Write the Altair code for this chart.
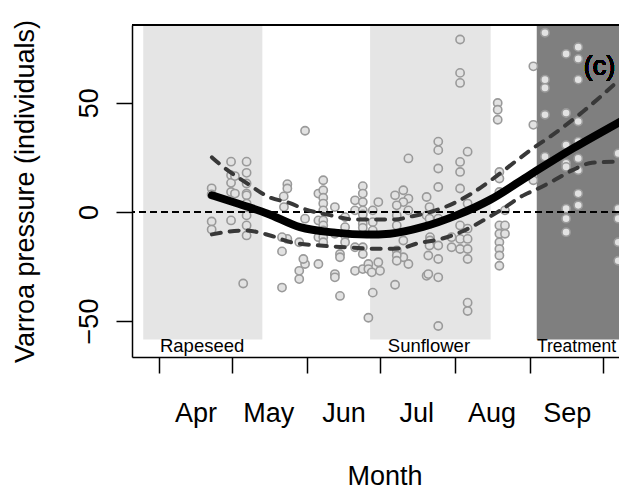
import altair as alt
import pandas as pd

FONT = "Liberation Sans"

# ---- observations: day since 1 April, Varroa pressure (individuals) ----
point_day = (
    [21.7] * 4 + [29.7] * 5 + [31.3] * 2 + [36.1] * 9 + [34.7]
    + [60.2] * 3 + [52.9] * 3 + [51.4, 51.5] + [50.7] * 3 + [57.8] * 3 + [59.5]
    + [65.7] * 4 + [67.7] * 10 + [72.5] * 4 + [74.6] * 3 + [76.7] * 4 + [80.8] * 4
    + [102.8] * 4 + [84.0] * 10 + [86.3] * 3 + [87.7] + [90.4] * 2 + [91.1]
    + [88.1] * 4 + [97.3] * 2 + [100.7] * 4 + [98.0] * 6 + [110.3] * 3
    + [111.7] * 3 + [111.0]
    + [124.1] * 9 + [115.1] * 9 + [127.2] * 8 + [111.5] * 3 + [111.0] + [120.6] * 2
    + [139.6] * 3 + [154.3] * 3 + [140.3] * 9 + [142.6] * 3
    + [159.1] * 5 + [167.8] * 8 + [172.8] * 9 + [189.3] * 5
)
point_val = (
    [10.8, 8.0, -4.4, -8.1]
    + [23.0, 16.8, 13.3, 9.1, -3.9]
    + [16.4, 8.4]
    + [23.0, 17.9, 13.0, 8.4, 7.6, 3.8, -1.6, -6.2, -10.8]
    + [-32.8]
    + [37.2, -3.1, -23.9]
    + [12.7, 10.7, -12.4]
    + [7.1, 2.2]
    + [-11.6, -18.1, -34.7]
    + [-13.9, -27.0, -30.8]
    + [-21.6]
    + [-23.9, -3.9, -11.6, 8.4]
    + [14.5, 9.9, 6.5, 3.8, 0.7, -3.9, -6.2, -8.5, -11.6, -13.9]
    + [2.2, -10.0, -28.5, -30.0]
    + [-19.3, -20.8, -38.5]
    + [-2.4, -7.0, -10.8, -13.9]
    + [5.3, 0.7, -16.2, -27.0]
    + [24.5, 6.1, 0.7, -23.9]
    + [11.8, 8.4, 4.5, 0.7, -1.2, -5.4, -7.3, -16.2, -19.3, -26.2]
    + [-23.9, -26.2, -48.5]
    + [-27.7]
    + [-23.1, 4.5]
    + [-27.0]
    + [-4.7, -8.5, 0.7, -37.0]
    + [7.6, -33.4]
    + [9.9, 4.5, -13.1, -20.8]
    + [3.0, -1.6, -6.2, -17.7, -20.0, -22.4]
    + [6.8, -1.6, -29.3]
    + [-5.4, -11.6, -13.1]
    + [-20.0]
    + [79.0, 63.7, 59.1, 22.9, 18.3, 10.7, -6.2, -12.4, -17.0]
    + [32.2, 28.3, 19.9, 11.4, -3.1, -15.4, -21.6, -30.0, -52.3]
    + [27.6, 3.8, -7.7, -12.4, -17.0, -21.6, -41.6, -45.4]
    + [2.2, -3.1, -15.4]
    + [-28.5]
    + [-11.6, -16.2]
    + [49.9, 46.8, 42.2]
    + [66.7, 39.9, 14.5]
    + [18.3, 15.3, 9.1, -6.2, -10.0, -13.9, -17.0, -20.0, -24.7]
    + [0.7, -6.2, -10.0]
    + [82.1, 60.6, 56.8, 44.5, 25.3]
    + [72.4, 45.3, 30.6, 22.2, 20.6, 1.5, -3.1, -9.3]
    + [75.5, 70.1, 60.6, 41.4, 32.2, 24.5, 19.1, 8.4, 3.0]
    + [26.8, 1.5, -3.1, -13.9, -22.4]
)

# ---- fitted smooth and confidence band ----
fit_day = [21.8, 30.5, 37.5, 44.5, 58.1, 72.5, 85.7, 95.2, 108.8, 122.8,
           136.4, 152.9, 170.6, 181.8, 190.4]
fit_val = [7.6, 4.5, 2.0, -0.7, -7.0, -9.5, -10.4, -10.0, -6.9, -1.5,
           5.5, 17.0, 29.1, 36.2, 41.5]

upper_day = [21.8, 26.0, 37.1, 44.9, 54.0, 59.4, 70.5, 80.8, 97.3, 103.5,
             112.9, 121.2, 129.0, 136.8, 147.6, 154.2, 161.2, 174.8, 189.2]
upper_val = [25.0, 21.0, 12.5, 7.0, 4.0, 1.5, -1.5, -3.5, -3.5, -2.2,
             0.3, 3.8, 8.5, 14.5, 23.7, 29.2, 34.5, 46.0, 60.0]

lower_day = [21.8, 35.4, 45.8, 54.8, 66.4, 76.7, 91.1, 99.3, 106.3, 115.8,
             124.9, 133.5, 139.7, 150.9, 155.0, 163.2, 170.2, 178.5, 189.2]
lower_val = [-10.3, -8.5, -10.8, -14.0, -15.4, -16.2, -16.9, -16.7, -14.5, -12.5,
             -9.0, -4.0, 0.0, 8.0, 10.0, 14.7, 19.0, 22.5, 23.0]

# ---- crop / treatment periods ----
period_names = ["Rapeseed", "Sunflower", "Treatment"]
period_start = [-6.5, 87.0, 155.7]
period_end = [42.6, 136.7, 205.0]
period_fill = ["#e5e5e5", "#e5e5e5", "#7f7f7f"]
period_label_day = [0.4, 94.3, 155.8]
period_label_size = [18.5, 18.5, 17.5]
PERIOD_BOTTOM = -58.5
PERIOD_LABEL_VAL = -64.2

# ---- axes ----
month_start_days = [0, 30, 61, 91, 122, 153, 183]
month_names = ["Apr", "May", "Jun", "Jul", "Aug", "Sep", ""]
y_ticks = [-50, 0, 50]
X_DOMAIN = [-11.13, 189.6]
Y_DOMAIN = [-66.5, 85.64]

PANEL_LABEL = "(c)"
PANEL_LABEL_DAY = 181.6
PANEL_LABEL_VAL = 62.5

label_expr = ""
for d, m in zip(month_start_days, month_names):
    label_expr += f"datum.value == {d} ? '{m}' : "
label_expr += "''"

points_df = pd.DataFrame({"day": point_day, "val": point_val})
fit_df = pd.DataFrame({"day": fit_day, "val": fit_val})
upper_df = pd.DataFrame({"day": upper_day, "val": upper_val})
lower_df = pd.DataFrame({"day": lower_day, "val": lower_val})
period_df = pd.DataFrame({
    "name": period_names, "start": period_start, "end": period_end,
    "fill": period_fill, "label_day": period_label_day,
    "label_size": period_label_size,
    "bottom": [PERIOD_BOTTOM] * 3, "top": [Y_DOMAIN[1]] * 3,
})

x_axis = alt.Axis(
    values=month_start_days, labelExpr=label_expr, labelOffset=36.5,
    tickSize=16, tickWidth=1.5, tickColor="black",
    domainColor="black", domainWidth=1.5, grid=False,
    labelFont=FONT, labelFontSize=27, labelColor="black",
    labelPadding=48, labelBaseline="alphabetic", labelAlign="center",
    labelOverlap=False, labelFlush=False,
    title="Month", titleFont=FONT, titleFontSize=27, titleFontWeight="normal",
    titleColor="black", titleX=252.5, titleY=127,
    titleBaseline="alphabetic", titleAlign="center",
)
y_axis = alt.Axis(
    values=y_ticks, tickSize=16, tickWidth=1.5, tickColor="black",
    domainColor="black", domainWidth=1.5, grid=False,
    labelFont=FONT, labelFontSize=27, labelColor="black",
    labelAngle=270, labelAlign="center", labelBaseline="alphabetic",
    labelPadding=19,
    title="Varroa pressure (individuals)", titleFont=FONT, titleFontSize=27,
    titleFontWeight="normal", titleColor="black", titleAngle=270,
    titleX=-99, titleY=166, titleBaseline="alphabetic", titleAlign="center",
)
x_scale = alt.Scale(domain=X_DOMAIN, nice=False, zero=False)
y_scale = alt.Scale(domain=Y_DOMAIN, nice=False, zero=False)


def X(field):
    return alt.X(field, type="quantitative", scale=x_scale, axis=x_axis, title="Month")


def Y(field):
    return alt.Y(field, type="quantitative", scale=y_scale, axis=y_axis,
                 title="Varroa pressure (individuals)")


rects = alt.Chart(period_df).mark_rect(clip=True).encode(
    x=X("start"), x2="end", y=Y("bottom"), y2="top",
    color=alt.Color("fill:N", scale=None),
)
rect_labels = alt.Chart(period_df).mark_text(
    font=FONT, color="black", align="left", baseline="alphabetic", fontWeight="normal",
).encode(x=X("label_day"), y=alt.datum(PERIOD_LABEL_VAL), text="name:N",
         size=alt.Size("label_size:Q", scale=None, legend=None))

points = alt.Chart(points_df).mark_point(
    shape="circle", filled=False, fill="#e2e2e2", fillOpacity=1,
    stroke="#9a9a9a", strokeWidth=1.6, size=68, opacity=1, clip=True,
).encode(x=X("day"), y=Y("val"))

zero = alt.Chart(points_df).mark_rule(
    color="black", strokeWidth=1.2, strokeDash=[7, 4],
).encode(y=alt.datum(0))

fit = alt.Chart(fit_df).mark_line(
    color="black", strokeWidth=8, interpolate="monotone", strokeCap="round", clip=True,
).encode(x=X("day"), y=Y("val"))

upper = alt.Chart(upper_df).mark_line(
    color="#383838", strokeWidth=4, strokeDash=[9, 9], strokeCap="round",
    interpolate="monotone", clip=True,
).encode(x=X("day"), y=Y("val"))
lower = alt.Chart(lower_df).mark_line(
    color="#383838", strokeWidth=4, strokeDash=[9, 9], strokeCap="round",
    interpolate="monotone", clip=True,
).encode(x=X("day"), y=Y("val"))

top_line = alt.Chart(points_df).mark_rule(color="black", strokeWidth=1.5).encode(
    y=alt.datum(Y_DOMAIN[1])
)

panel = alt.Chart(points_df).mark_text(
    font=FONT, fontSize=27, fontWeight="normal", color="black",
    align="center", baseline="alphabetic",
).encode(x=alt.datum(PANEL_LABEL_DAY), y=alt.datum(PANEL_LABEL_VAL),
         text=alt.value(PANEL_LABEL))

chart = alt.layer(
    rects, rect_labels, points, zero, fit, upper, lower, top_line, panel
).properties(
    width=487, height=332,
    padding={"left": 124, "top": 17, "right": 0, "bottom": 134},
    autosize=alt.AutoSizeParams(type="none"),
).configure_view(stroke=None).configure(background="white")

chart.save("out.html", embed_options={"renderer": "svg", "actions": False})
